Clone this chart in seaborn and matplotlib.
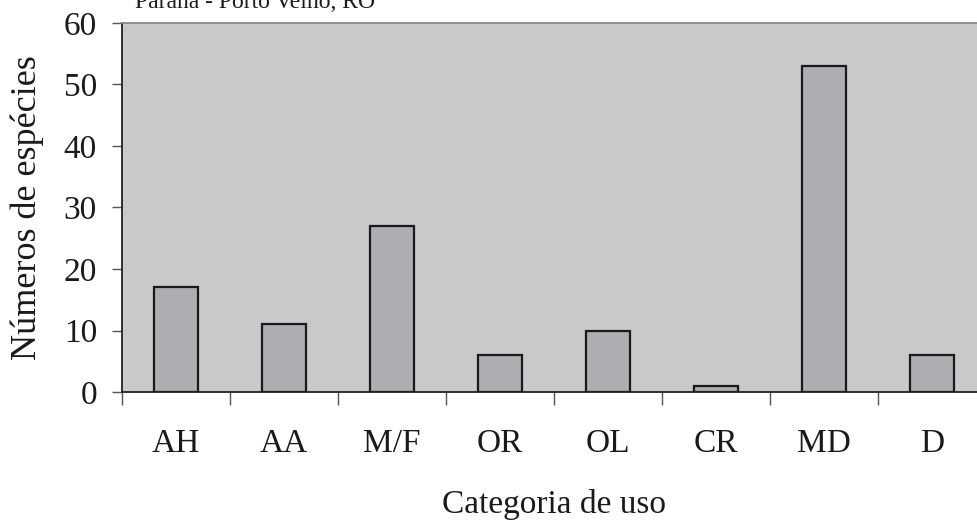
import matplotlib
matplotlib.use('Agg')
import matplotlib.pyplot as plt
import seaborn as sns
import pandas as pd
import numpy as np
from matplotlib.ticker import FixedLocator

# ── data ──────────────────────────────────────────────
categorias = ['AH', 'AA', 'M/F', 'OR', 'OL', 'CR', 'MD', 'D']
especies = [17, 11, 27, 6, 10, 1, 53, 6]

df = pd.DataFrame({'categoria': categorias, 'especies': especies})

sns.set_style('white')
plt.rcParams['font.family'] = ['Liberation Serif', 'DejaVu Serif']

fig = plt.figure(figsize=(9.77, 5.22), dpi=100)
ax = fig.add_axes([0.1249, 0.249, 0.884, 0.707])
ax.set_facecolor('#c8c9cb')

sns.barplot(data=df, x='categoria', y='especies', color='#adaeb1',
            edgecolor='#1a1a1a', linewidth=1.6, width=0.41,
            saturation=1, ax=ax)

ax.set_xlim(-0.5, len(categorias) - 0.5)
ax.set_ylim(0, 60)
ax.set_yticks(np.arange(0, 61, 10))

# tick marks between categories, labels centred
ax.xaxis.set_major_locator(FixedLocator(np.arange(-0.5, len(categorias), 1)))
ax.set_xticklabels([])
ax.xaxis.set_minor_locator(FixedLocator(np.arange(len(categorias))))
ax.set_xticklabels(categorias, minor=True)
ax.tick_params(axis='x', which='major', direction='out', length=9.5,
               width=1, color='#555555', bottom=True)
ax.tick_params(axis='x', which='minor', length=0, pad=26, labelsize=24,
               labelcolor='#1a1a1a')
ax.tick_params(axis='y', direction='out', length=7, width=1,
               color='#555555', left=True, labelsize=24, pad=11,
               labelcolor='#1a1a1a')

for s in ['left', 'bottom']:
    ax.spines[s].set_color('#222222')
    ax.spines[s].set_linewidth(1.3)
ax.spines['top'].set_color('#888888')
ax.spines['top'].set_linewidth(1.3)
ax.spines['right'].set_visible(False)

ax.set_xlabel('Categoria de uso', fontsize=24, labelpad=22, color='#1a1a1a')
ax.set_ylabel('Números de espécies', fontsize=26, labelpad=14, color='#1a1a1a')

fig.text(0.138, 0.985, 'Paraná - Porto Velho, RO', fontsize=17,
         ha='left', va='baseline', color='#1a1a1a')

fig.savefig('out.png', dpi=100, facecolor='white')
